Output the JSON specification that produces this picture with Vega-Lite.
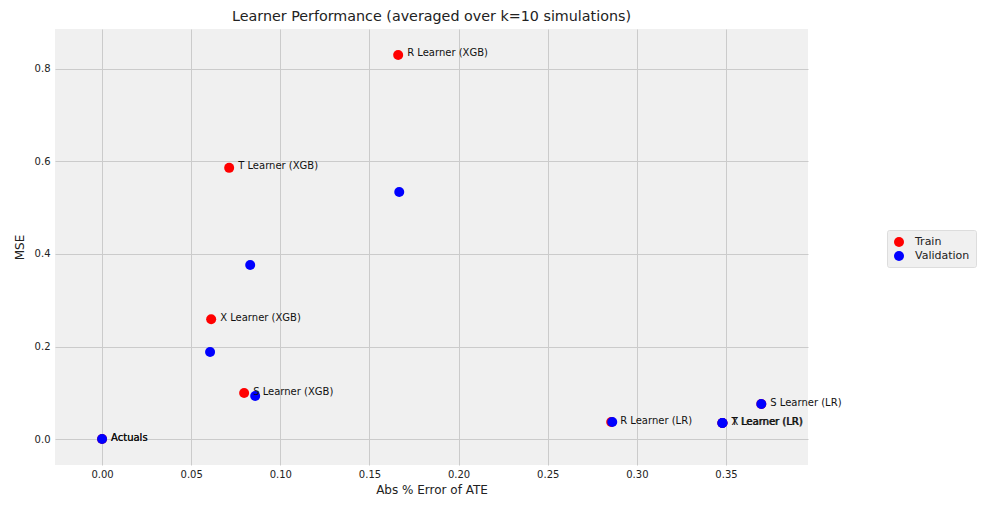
{
  "$schema": "https://vega.github.io/schema/vega-lite/v6.json",
  "width": 753,
  "height": 436,
  "autosize": {"type": "none"},
  "padding": {"left": 55, "top": 29, "right": 178, "bottom": 40},
  "background": "white",
  "title": {"text": "Learner Performance (averaged over k=10 simulations)", "font": "DejaVu Sans", "fontSize": 14.3, "fontWeight": "normal", "color": "#222222", "offset": 5},
  "config": {
    "view": {"fill": "#f0f0f0", "stroke": null},
    "font": "DejaVu Sans"
  },
  "data": {"values": [
    {"learner": "R Learner (XGB)", "err": 0.1661, "mse": 0.830, "set": "Train", "label": "R Learner (XGB)"},
    {"learner": "T Learner (XGB)", "err": 0.0713, "mse": 0.586, "set": "Train", "label": "T Learner (XGB)"},
    {"learner": "X Learner (XGB)", "err": 0.0612, "mse": 0.259, "set": "Train", "label": "X Learner (XGB)"},
    {"learner": "S Learner (XGB)", "err": 0.0797, "mse": 0.0995, "set": "Train", "label": "S Learner (XGB)"},
    {"learner": "R Learner (LR)", "err": 0.2856, "mse": 0.0368, "set": "Train", "label": "R Learner (LR)"},
    {"learner": "S Learner (LR)", "err": 0.3698, "mse": 0.0757, "set": "Train", "label": "S Learner (LR)"},
    {"learner": "T Learner (LR)", "err": 0.348, "mse": 0.0346, "set": "Train", "label": "T Learner (LR)"},
    {"learner": "X Learner (LR)", "err": 0.348, "mse": 0.0346, "set": "Train", "label": "X Learner (LR)"},
    {"learner": "Actuals", "err": 0.0, "mse": 0.0, "set": "Train", "label": "Actuals"},
    {"learner": "R Learner (XGB)", "err": 0.1667, "mse": 0.534, "set": "Validation", "label": null},
    {"learner": "T Learner (XGB)", "err": 0.0831, "mse": 0.376, "set": "Validation", "label": null},
    {"learner": "X Learner (XGB)", "err": 0.0606, "mse": 0.188, "set": "Validation", "label": null},
    {"learner": "S Learner (XGB)", "err": 0.0859, "mse": 0.093, "set": "Validation", "label": null},
    {"learner": "R Learner (LR)", "err": 0.2862, "mse": 0.0368, "set": "Validation", "label": null},
    {"learner": "S Learner (LR)", "err": 0.3698, "mse": 0.0757, "set": "Validation", "label": null},
    {"learner": "T Learner (LR)", "err": 0.348, "mse": 0.0346, "set": "Validation", "label": null},
    {"learner": "X Learner (LR)", "err": 0.348, "mse": 0.0346, "set": "Validation", "label": null},
    {"learner": "Actuals", "err": 0.0, "mse": 0.0, "set": "Validation", "label": "Actuals"}
  ]},
  "encoding": {
    "x": {"field": "err", "type": "quantitative",
      "scale": {"domain": [-0.0264, 0.396], "nice": false, "zero": false},
      "axis": {"title": "Abs % Error of ATE", "values": [0, 0.05, 0.1, 0.15, 0.2, 0.25, 0.3, 0.35], "format": ".2f",
        "domain": false, "ticks": false, "labelPadding": 4, "labelFontSize": 10, "labelColor": "#222222",
        "titleFontSize": 12, "titleFontWeight": "normal", "titleColor": "#222222", "titlePadding": 5,
        "gridColor": "#cbcbcb", "gridWidth": 1}},
    "y": {"field": "mse", "type": "quantitative",
      "scale": {"domain": [-0.056, 0.886], "nice": false, "zero": false},
      "axis": {"title": "MSE", "values": [0, 0.2, 0.4, 0.6, 0.8], "format": ".1f",
        "domain": false, "ticks": false, "labelPadding": 5, "labelFontSize": 10, "labelColor": "#222222",
        "titleFontSize": 12, "titleFontWeight": "normal", "titleColor": "#222222", "titlePadding": 8,
        "gridColor": "#cbcbcb", "gridWidth": 1}}
  },
  "layer": [
    {
      "mark": {"type": "point", "filled": true, "opacity": 1, "size": 100, "shape": "circle"},
      "encoding": {
        "color": {"field": "set", "type": "nominal",
          "scale": {"domain": ["Train", "Validation"], "range": ["#ff0000", "#0000ff"]},
          "legend": {"title": null, "orient": "none", "legendX": 832, "legendY": 201,
            "fillColor": "#f0f0f0", "strokeColor": "#dddddd", "padding": 6, "cornerRadius": 2,
            "labelFontSize": 11, "labelColor": "#222222", "symbolSize": 100, "symbolType": "circle",
            "rowPadding": 3, "labelOffset": 10}}
      }
    },
    {
      "transform": [{"filter": "datum.label != null"}],
      "mark": {"type": "text", "align": "left", "baseline": "middle", "dx": 9, "dy": -1.5, "fontSize": 10, "color": "#111111"},
      "encoding": {"text": {"field": "label"}}
    }
  ]
}
